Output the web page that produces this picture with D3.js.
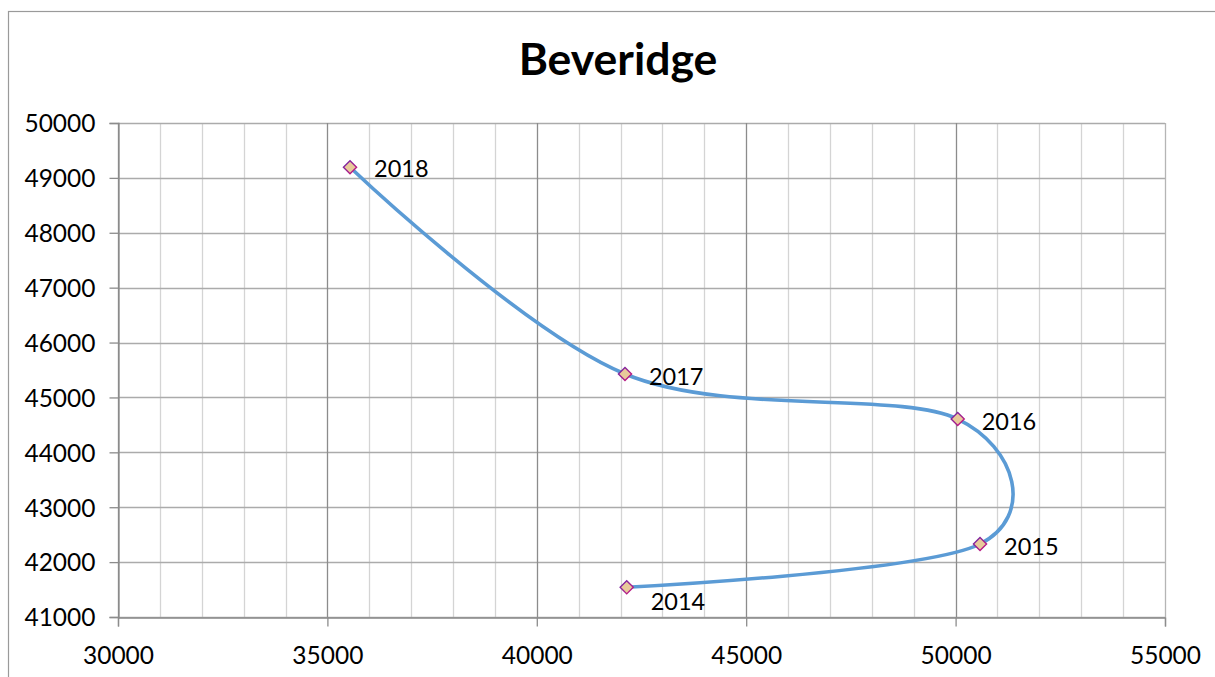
<!DOCTYPE html>
<html>
<head>
<meta charset="utf-8">
<script src="https://cdn.jsdelivr.net/npm/d3@7"></script>
<style>
  html, body { margin: 0; padding: 0; background: #ffffff; }
  svg { display: block; }
  text { font-family: Lato, "Open Sans", sans-serif; fill: #000; }
</style>
</head>
<body>
<svg id="chart" width="1215" height="677"></svg>
<script>
// Beveridge curve: one point per year, joined in year order
const years = ["2014", "2015", "2016", "2017", "2018"];
const xValues = [42147, 50583, 50050, 42106, 35540];
const yValues = [41541, 42330, 44607, 45427, 49193];

const xTicks = [30000, 35000, 40000, 45000, 50000, 55000];
const yTicks = [41000, 42000, 43000, 44000, 45000, 46000, 47000, 48000, 49000, 50000];

const title = "Beveridge";

const W = 1215, H = 677;
const plot = { left: 118, right: 1165, top: 123, bottom: 617 };

const svg = d3.select("#chart");

// outer chart frame (runs past the right and bottom edges)
svg.append("rect")
  .attr("x", 8.5).attr("y", 11.5)
  .attr("width", W + 20).attr("height", H + 20)
  .attr("fill", "#fff").attr("stroke", "#9a9a9a").attr("stroke-width", 1.2);

const x = d3.scaleLinear().domain([30000, 55000]).range([plot.left, plot.right]);
const y = d3.scaleLinear().domain([41000, 50000]).range([plot.bottom, plot.top]);

const g = svg.append("g");

// minor vertical gridlines every 1000
const minorX = d3.range(31000, 55000, 1000).filter(v => v % 5000 !== 0);
g.append("g").selectAll("line").data(minorX).join("line")
  .attr("x1", d => Math.round(x(d)) + 0.5).attr("x2", d => Math.round(x(d)) + 0.5)
  .attr("y1", plot.top).attr("y2", plot.bottom)
  .attr("stroke", "#d4d4d4").attr("stroke-width", 1.3);

// horizontal gridlines
g.append("g").selectAll("line").data(yTicks).join("line")
  .attr("x1", plot.left).attr("x2", plot.right)
  .attr("y1", d => Math.round(y(d)) + 0.5).attr("y2", d => Math.round(y(d)) + 0.5)
  .attr("stroke", "#ababab").attr("stroke-width", 1.3);

// major vertical gridlines every 5000
g.append("g").selectAll("line").data(xTicks).join("line")
  .attr("x1", d => Math.round(x(d)) + 0.5).attr("x2", d => Math.round(x(d)) + 0.5)
  .attr("y1", plot.top).attr("y2", plot.bottom)
  .attr("stroke", d => (d === 55000 ? "#b5b5b5" : "#8c8c8c")).attr("stroke-width", 1.3);

// axes
const xAxis = d3.axisBottom(x).tickValues(xTicks).tickSize(9).tickPadding(20).tickFormat(d3.format("d"));
const yAxis = d3.axisLeft(y).tickValues(yTicks).tickSize(9).tickPadding(14).tickFormat(d3.format("d"));

const gx = svg.append("g").attr("transform", `translate(0,${plot.bottom + 0.5})`).call(xAxis);
const gy = svg.append("g").attr("transform", `translate(${plot.left + 0.5},0)`).call(yAxis);

[gx, gy].forEach(a => {
  a.select(".domain").attr("stroke", "#8c8c8c").attr("stroke-width", 1.3);
  a.selectAll(".tick line").attr("stroke", "#8c8c8c").attr("stroke-width", 1.3);
  a.selectAll(".tick text")
    .attr("font-family", "Lato, 'Open Sans', sans-serif")
    .attr("font-size", 24.5).attr("fill", "#000");
});
gy.selectAll(".tick text").attr("dy", "0.36em");
gx.selectAll(".tick text").attr("dy", "0.71em");

// title
svg.append("text")
  .attr("x", 618).attr("y", 75)
  .attr("text-anchor", "middle")
  .attr("font-size", 44.5).attr("font-weight", "bold")
  .text(title);

// smoothed connecting line
const pts = years.map((yr, i) => ({ year: yr, x: xValues[i], y: yValues[i] }));
const line = d3.line().x(d => x(d.x)).y(d => y(d.y)).curve(d3.curveCardinal.tension(0));

svg.append("path")
  .datum(pts)
  .attr("d", line)
  .attr("fill", "none")
  .attr("stroke", "#5b9bd5")
  .attr("stroke-width", 3.6)
  .attr("stroke-linejoin", "round")
  .attr("stroke-linecap", "round");

// diamond markers
const defs = svg.append("defs");
const grad = defs.append("linearGradient").attr("id", "mk")
  .attr("x1", "0%").attr("y1", "0%").attr("x2", "100%").attr("y2", "100%");
grad.append("stop").attr("offset", "0%").attr("stop-color", "#6a2aa8");
grad.append("stop").attr("offset", "100%").attr("stop-color", "#d0157a");

const diamond = d3.symbol().type(d3.symbolDiamond2).size(110);
svg.append("g").selectAll("path").data(pts).join("path")
  .attr("transform", d => `translate(${x(d.x)},${y(d.y)})`)
  .attr("d", diamond)
  .attr("fill", "#e8c99a")
  .attr("stroke", "url(#mk)")
  .attr("stroke-width", 1.4);

// year labels, placed to the right of each marker
const labelDy = [23, 11, 11, 11, 10];
svg.append("g").selectAll("text").data(pts).join("text")
  .attr("x", d => x(d.x) + 24)
  .attr("y", (d, i) => y(d.y) + labelDy[i])
  .attr("font-size", 23.5)
  .text(d => d.year);
</script>
</body>
</html>
